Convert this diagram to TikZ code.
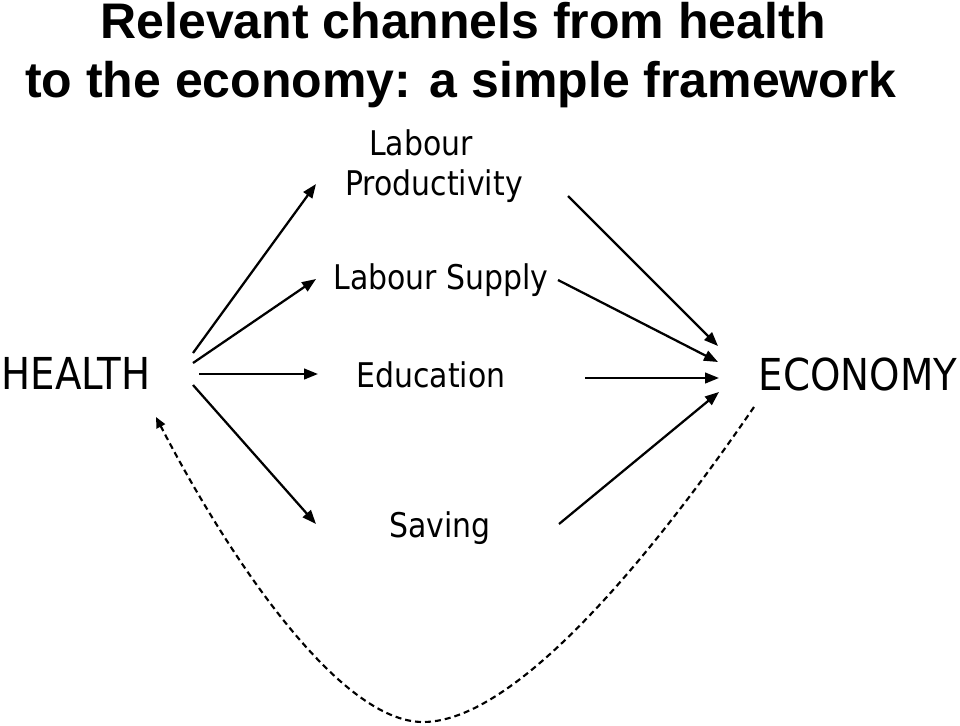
\documentclass[tikz,border=0pt]{standalone}
\usepackage{fontspec}
\usetikzlibrary{arrows.meta}
\newfontfamily\labfont{DejaVu Sans}[FakeStretch=0.88]
\newfontfamily\ttlfont{Liberation Sans}
\begin{document}
\begin{tikzpicture}[x=0.75pt,y=-0.75pt,
  ttl/.style={font=\ttlfont\bfseries\fontsize{37.5}{45}\selectfont,anchor=base,inner sep=0},
  lab/.style={font=\labfont\fontsize{25.5}{30}\selectfont,anchor=base,inner sep=0},
  big/.style={font=\labfont\fontsize{33}{40}\selectfont,anchor=base,inner sep=0},
  arr/.style={line width=1.7pt,-{Triangle[length=10.5pt,width=8pt]}},
  fb/.style={line width=1.6pt,dash pattern=on 4.5pt off 3pt,-{Triangle[length=8pt,width=7pt]}}]
\useasboundingbox (0,0) rectangle (960,725);
% titles
\node[ttl] (t1) at (463,38) {Relevant channels from health};
\node[ttl] (t2) at (461,97) {to the economy: a simple framework};
% labels
\node[lab] (labour) at (421,155) {Labour};
\node[lab] (prod) at (434,195) {Productivity};
\node[lab] (supply) at (441,289) {Labour Supply};
\node[lab] (educ) at (431,387) {Education};
\node[lab] (saving) at (440,537) {Saving};
\node[big] (health) at (76,389) {HEALTH};
\node[big] (economy) at (858,390) {ECONOMY};
% endpoints
\coordinate (h1) at (193,353);
\coordinate (h2) at (193,363);
\coordinate (h3) at (199,374);
\coordinate (h4) at (193,385);
\coordinate (p1) at (316,184);
\coordinate (p2) at (316,279);
\coordinate (p3) at (318,374);
\coordinate (p4) at (316,524);
\coordinate (q1) at (568,196);
\coordinate (q2) at (558,280);
\coordinate (q3) at (585,378);
\coordinate (q4) at (559,524);
\coordinate (e1) at (718,346);
\coordinate (e2) at (718,362);
\coordinate (e3) at (719,378);
\coordinate (e4) at (719,392);
\coordinate (ds) at (754,407);
\coordinate (bot) at (423,722);
\coordinate (de) at (156,417);
% arrows
\draw[arr] (h1) -- (p1);
\draw[arr] (h2) -- (p2);
\draw[arr] (h3) -- (p3);
\draw[arr] (h4) -- (p4);
\draw[arr] (q1) -- (e1);
\draw[arr] (q2) -- (e2);
\draw[arr] (q3) -- (e3);
\draw[arr] (q4) -- (e4);
% feedback
\draw[fb] (ds) .. controls (690,500) and (530,722) .. (bot)
  .. controls (340,722) and (230,560) .. (de);
\end{tikzpicture}
\end{document}
